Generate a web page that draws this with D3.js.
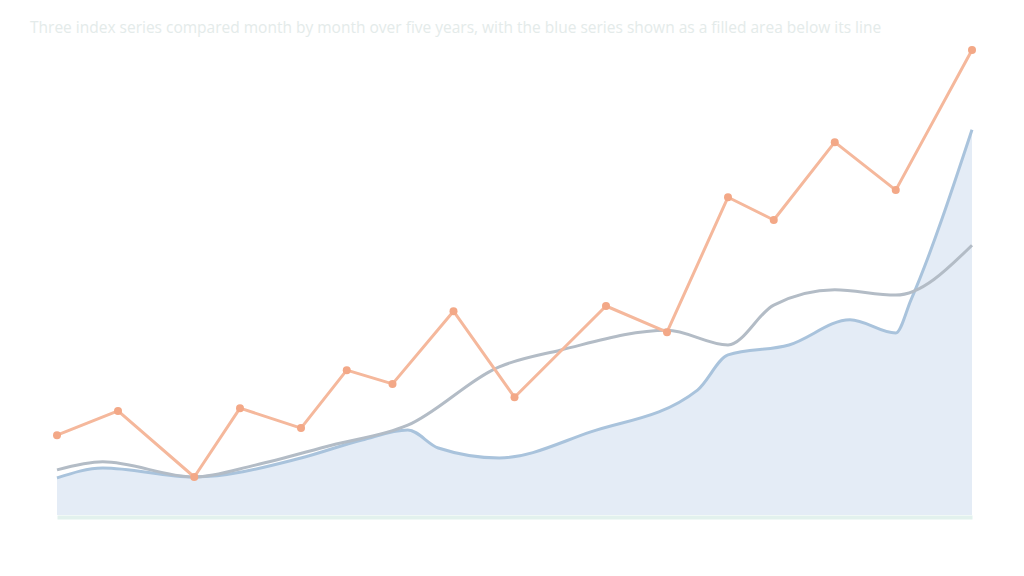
<!DOCTYPE html>
<html>
<head>
<meta charset="utf-8">
<script src="https://cdn.jsdelivr.net/npm/d3@7"></script>
<style>
  body { margin: 0; background: #fff; }
  svg { display: block; font-family: "Open Sans", "DejaVu Sans", sans-serif; }
</style>
</head>
<body>
<svg id="chart" width="1024" height="576"></svg>
<script>
// series data (x = month index, y = index value)
const orangeMonths = [0, 4, 9, 12, 16, 19, 22, 26, 30, 36, 40, 44, 47, 51, 55, 60];
const orangeValues = [16.8, 21.9, 8.0, 22.5, 18.3, 30.5, 27.6, 42.9, 24.8, 44.0, 38.5, 66.9, 62.1, 78.5, 68.4, 97.9];

const greyMonths = [0, 3, 9, 13, 18, 23, 29, 33, 40, 44, 47, 51, 55, 60];
const greyValues = [9.5, 11.2, 8.0, 10.5, 14.7, 18.9, 31.2, 34.7, 38.9, 35.8, 44.2, 47.4, 46.3, 56.8];

const blueMonths = [0, 3, 9, 16, 20, 23, 25, 29, 35, 42, 44, 48, 52, 55, 56, 60];
const blueValues = [7.8, 9.9, 8.0, 12.0, 15.8, 17.9, 14.1, 12.0, 17.5, 26.3, 33.7, 35.8, 41.1, 38.3, 45.3, 81.1];

const title = "Three index series compared month by month over five years, with the blue series shown as a filled area below its line";

const svg = d3.select('#chart');
const margin = { top: 40, right: 52, bottom: 61, left: 57 };
const width = 1024 - margin.left - margin.right;
const height = 576 - margin.top - margin.bottom;

const x = d3.scaleLinear().domain([0, 60]).range([margin.left, margin.left + width]);
const y = d3.scaleLinear().domain([0, 100]).range([margin.top + height, margin.top]);

const zip = (xs, ys) => xs.map((m, i) => ({ m, v: ys[i] }));
const orange = zip(orangeMonths, orangeValues);
const grey = zip(greyMonths, greyValues);
const blue = zip(blueMonths, blueValues);

// title
svg.append('text')
  .attr('x', 30)
  .attr('y', 33)
  .attr('font-size', 15.5)
  .attr('fill', '#e4ebea')
  .text(title);

// blue area
svg.append('path')
  .datum(blue)
  .attr('fill', '#e4ecf6')
  .attr('d', d3.area()
    .curve(d3.curveMonotoneX)
    .x(d => x(d.m))
    .y0(y(0))
    .y1(d => y(d.v)));

// x axis, bare line
svg.append('g')
  .attr('transform', `translate(0,${y(0) + 2})`)
  .call(d3.axisBottom(x).ticks(0).tickSizeOuter(0))
  .call(g => g.select('.domain').attr('stroke', '#e2f1ed').attr('stroke-width', 4));

const smooth = d3.line().curve(d3.curveMonotoneX).x(d => x(d.m)).y(d => y(d.v));

svg.append('path')
  .datum(blue)
  .attr('fill', 'none')
  .attr('stroke', '#a9c3dc')
  .attr('stroke-width', 3)
  .attr('d', smooth);

svg.append('path')
  .datum(grey)
  .attr('fill', 'none')
  .attr('stroke', '#b3bcc6')
  .attr('stroke-width', 3)
  .attr('d', smooth);

svg.append('path')
  .datum(orange)
  .attr('fill', 'none')
  .attr('stroke', '#f5b89c')
  .attr('stroke-width', 3)
  .attr('stroke-linejoin', 'round')
  .attr('d', d3.line().x(d => x(d.m)).y(d => y(d.v)));

svg.append('g')
  .selectAll('circle')
  .data(orange)
  .join('circle')
  .attr('cx', d => x(d.m))
  .attr('cy', d => y(d.v))
  .attr('r', 4)
  .attr('fill', '#f3a887');
</script>
</body>
</html>
